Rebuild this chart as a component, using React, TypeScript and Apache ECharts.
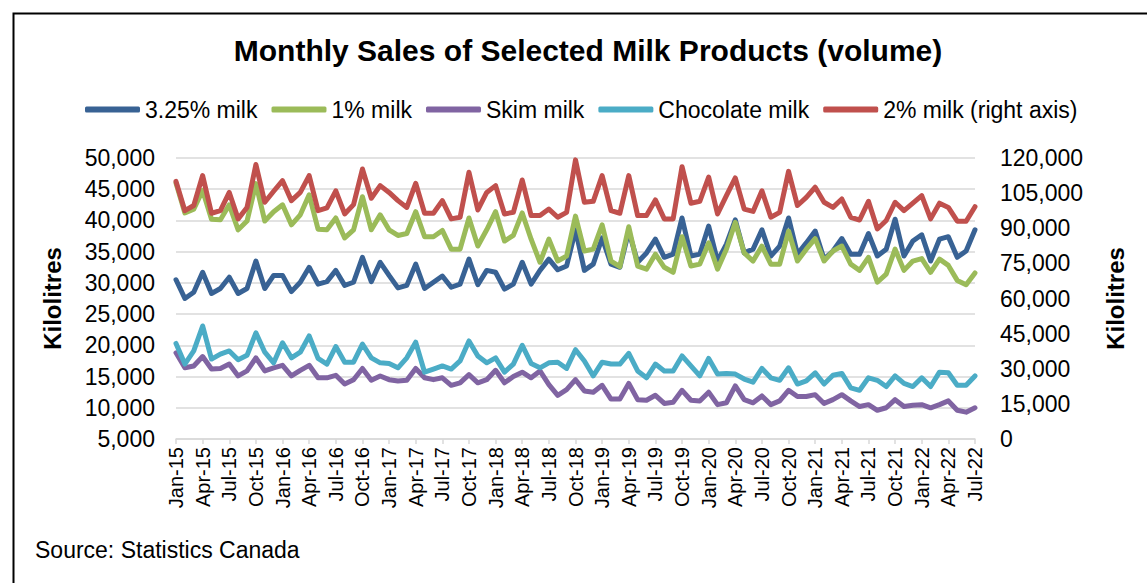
import React, { useEffect, useRef } from "react";
import * as echarts from "echarts";

const MONTHS = ["Jan", "Feb", "Mar", "Apr", "May", "Jun", "Jul", "Aug", "Sep", "Oct", "Nov", "Dec"];
const YEARS = ["15", "16", "17", "18", "19", "20", "21", "22"];
const LAST_MONTH_2022 = 7; // data ends Jul-22

const categories: string[] = [];
YEARS.forEach((y, yi) => {
  const n = yi === YEARS.length - 1 ? LAST_MONTH_2022 : 12;
  for (let m = 0; m < n; m++) categories.push(`${MONTHS[m]}-${y}`);
});

const LEFT_TICKS = { min: 5000, max: 50000, interval: 5000 };
const RIGHT_TICKS = { min: 0, max: 120000, interval: 15000 };

const milk325 = [
  30500, 27500, 28500, 31700, 28300, 29100, 30900, 28300, 29100, 33500, 29100, 31200,
  31200, 28600, 30100, 32500, 29800, 30200, 32000, 29600, 30100, 34100, 30200, 33300,
  31200, 29200, 29600, 33000, 29100, 30100, 31100, 29300, 29800, 33800, 29700, 32000,
  31700, 29000, 29800, 33300, 29800, 32000, 33800, 32100, 32700, 38500, 32000, 33000,
  37200, 33000, 32500, 38300, 33300, 34800, 37000, 34100, 34600, 40400, 34300, 34600,
  39100, 33500, 36200, 40100, 34800, 35400, 38500, 34300, 35900, 40400, 34600, 36400,
  38300, 33800, 35100, 37100, 34600, 34600, 37900, 34300, 35400, 40200, 34300, 36700,
  37700, 33500, 37000, 37400, 34100, 35100, 38500,
];

const milk1 = [
  46000, 41200, 41800, 44800, 40200, 40100, 42500, 38500, 39900, 45900, 39900, 41400,
  42500, 39300, 40900, 44100, 38600, 38500, 40400, 37200, 38500, 43800, 38500, 40900,
  38500, 37600, 37900, 41400, 37400, 37400, 38400, 35400, 35400, 40400, 35900, 38500,
  41400, 36700, 37600, 41200, 37000, 33300, 37000, 33500, 34300, 40700, 35100, 35400,
  39300, 33500, 32600, 39000, 32700, 32200, 34600, 32500, 31700, 37400, 32700, 33000,
  36400, 32200, 35400, 39700, 34800, 33500, 35900, 33000, 33000, 38300, 33500, 35400,
  37100, 33500, 35100, 35900, 33000, 32000, 34100, 30100, 31400, 35400, 32000, 33500,
  33900, 31700, 33800, 32800, 30400, 29700, 31600,
];

const skim = [
  18800, 16400, 16700, 18200, 16200, 16300, 17000, 15100, 15900, 18000, 15900, 16400,
  16800, 15100, 16000, 16800, 14800, 14800, 15200, 13800, 14500, 16300, 14400, 15100,
  14500, 14300, 14400, 16300, 14800, 14500, 14800, 13600, 14000, 15300, 14000, 14500,
  16000, 14000, 15000, 15700, 14800, 15900, 13700, 12000, 12900, 14500, 12700, 12500,
  13600, 11400, 11400, 13900, 11300, 11200, 12000, 10700, 10900, 12800, 11200, 11100,
  12500, 10500, 10800, 13500, 11300, 10800, 11900, 10500, 11100, 12800, 11800, 11800,
  12100, 10700, 11300, 12100, 11100, 10200, 10500, 9600, 10000, 11300, 10200, 10400,
  10500, 10000, 10500, 11100, 9600, 9300, 10000,
];

const chocolate = [
  20300, 17000, 19100, 23100, 17800, 18600, 19100, 17700, 18400, 22000, 18900, 17200,
  20400, 18000, 18900, 21500, 17900, 17000, 19800, 17300, 17300, 20200, 18000, 17200,
  17100, 16400, 18000, 20500, 15700, 16200, 16700, 16200, 17500, 20700, 18300, 17200,
  18000, 15700, 17000, 20000, 17100, 16400, 17200, 17300, 16300, 19300, 17500, 15100,
  17300, 17000, 17000, 18700, 15900, 14800, 17000, 15900, 15900, 18300, 16700, 15100,
  17900, 15400, 15500, 15400, 14600, 14100, 16300, 14800, 14400, 16400, 13800, 14300,
  15600, 13800, 15200, 15500, 13200, 12800, 14800, 14400, 13400, 15100, 13900, 13400,
  14800, 13400, 15700, 15600, 13600, 13600, 15100,
];

const milk2 = [
  110000, 97500, 99700, 112500, 96400, 97500, 105300, 94000, 98900, 117200, 101100, 105800,
  110300, 101800, 105300, 112500, 97500, 98700, 106000, 96100, 100100, 115300, 102800, 108200,
  105300, 101800, 98900, 109200, 96400, 96400, 101800, 94000, 94700, 113900, 97800, 105300,
  108200, 96100, 96800, 110600, 95400, 95400, 98200, 94700, 96800, 119200, 101100, 101500,
  112500, 97500, 96400, 112500, 95400, 95400, 102100, 94000, 94000, 116300, 100700, 101500,
  111800, 96100, 103900, 111500, 98200, 97200, 106000, 94700, 96800, 114300, 99700, 103200,
  107500, 101100, 98900, 102500, 94700, 93500, 101500, 89700, 93300, 101100, 97500, 100700,
  103900, 94000, 100700, 98900, 93000, 93000, 99200,
];

const SERIES = [
  { name: "3.25% milk", data: milk325, color: "#386294", axis: 0, legendW: 118 },
  { name: "1% milk", data: milk1, color: "#9BBB59", axis: 0, legendW: 82 },
  { name: "Skim milk", data: skim, color: "#8064A2", axis: 0, legendW: 101 },
  { name: "Chocolate milk", data: chocolate, color: "#4BACC6", axis: 0, legendW: 157 },
  { name: "2% milk (right axis)", data: milk2, color: "#C0504D", axis: 1, legendW: 210 },
];

const FONT = "'Liberation Sans', Arial, sans-serif";
const fmt = (v: number) => v.toLocaleString("en-US");

export default function App() {
  const ref = useRef<HTMLDivElement>(null);

  useEffect(() => {
    if (!ref.current) return;
    const chart = echarts.init(ref.current, undefined, { renderer: "svg" });
    chart.setOption({
      animation: false,
      backgroundColor: "#ffffff",
      textStyle: { fontFamily: FONT },
      title: {
        text: "Monthly Sales of Selected Milk Products (volume)",
        left: 583,
        textAlign: "center",
        top: 30,
        textStyle: { fontSize: 30, fontWeight: "bold", color: "#000", fontFamily: FONT },
      },
      legend: {
        left: 80,
        top: 93,
        itemWidth: 55,
        itemHeight: 6,
        itemGap: 14,
        icon: "roundRect",
        data: SERIES.map((s) => ({
          name: s.name,
          textStyle: { width: s.legendW },
        })),
        textStyle: { fontSize: 23, color: "#000", fontFamily: FONT },
      },
      grid: { left: 176, right: 172, top: 158, bottom: 144, containLabel: false },
      xAxis: {
        type: "category",
        data: categories,
        boundaryGap: false,
        axisLine: { lineStyle: { color: "#d9d9d9", width: 1.5 } },
        axisTick: { show: true, interval: 2, length: 5, lineStyle: { color: "#d9d9d9", width: 1.5 } },
        axisLabel: {
          interval: 2,
          rotate: 90,
          fontSize: 20,
          color: "#000",
          margin: 8,
          fontFamily: FONT,
        },
        splitLine: { show: false },
      },
      yAxis: [
        {
          type: "value",
          min: LEFT_TICKS.min,
          max: LEFT_TICKS.max,
          interval: LEFT_TICKS.interval,
          name: "Kilolitres",
          nameLocation: "middle",
          nameRotate: 90,
          nameGap: 112,
          nameTextStyle: { fontSize: 24, fontWeight: "bold", color: "#000", fontFamily: FONT },
          axisLine: { show: false },
          axisTick: { show: false },
          axisLabel: { formatter: fmt, fontSize: 23, color: "#000", margin: 21, fontFamily: FONT },
          splitLine: { lineStyle: { color: "#d9d9d9", width: 1.5 } },
        },
        {
          type: "value",
          min: RIGHT_TICKS.min,
          max: RIGHT_TICKS.max,
          interval: RIGHT_TICKS.interval,
          position: "right",
          name: "Kilolitres",
          nameLocation: "middle",
          nameRotate: 90,
          nameGap: 128,
          nameTextStyle: { fontSize: 24, fontWeight: "bold", color: "#000", fontFamily: FONT },
          axisLine: { show: false },
          axisTick: { show: false },
          axisLabel: { formatter: fmt, fontSize: 23, color: "#000", margin: 25, fontFamily: FONT },
          splitLine: { show: false },
        },
      ],
      series: SERIES.map((s) => ({
        name: s.name,
        type: "line",
        yAxisIndex: s.axis,
        data: s.data,
        symbol: "none",
        smooth: false,
        color: s.color,
        lineStyle: { width: 5, color: s.color, cap: "round", join: "round" },
      })),
      graphic: [
        {
          type: "rect",
          left: 11,
          top: 11,
          shape: { x: 0, y: 0, width: 1200, height: 600 },
          style: { fill: "none", stroke: "#000", lineWidth: 2 },
          silent: true,
        },
        {
          type: "text",
          left: 35,
          top: 538,
          style: {
            text: "Source: Statistics Canada",
            fontSize: 23,
            fill: "#000",
            fontFamily: FONT,
          },
        },
      ],
    });
    return () => chart.dispose();
  }, []);

  return (
    <div
      ref={ref}
      style={{ position: "fixed", left: 0, top: 0, width: 1147, height: 583 }}
    />
  );
}
